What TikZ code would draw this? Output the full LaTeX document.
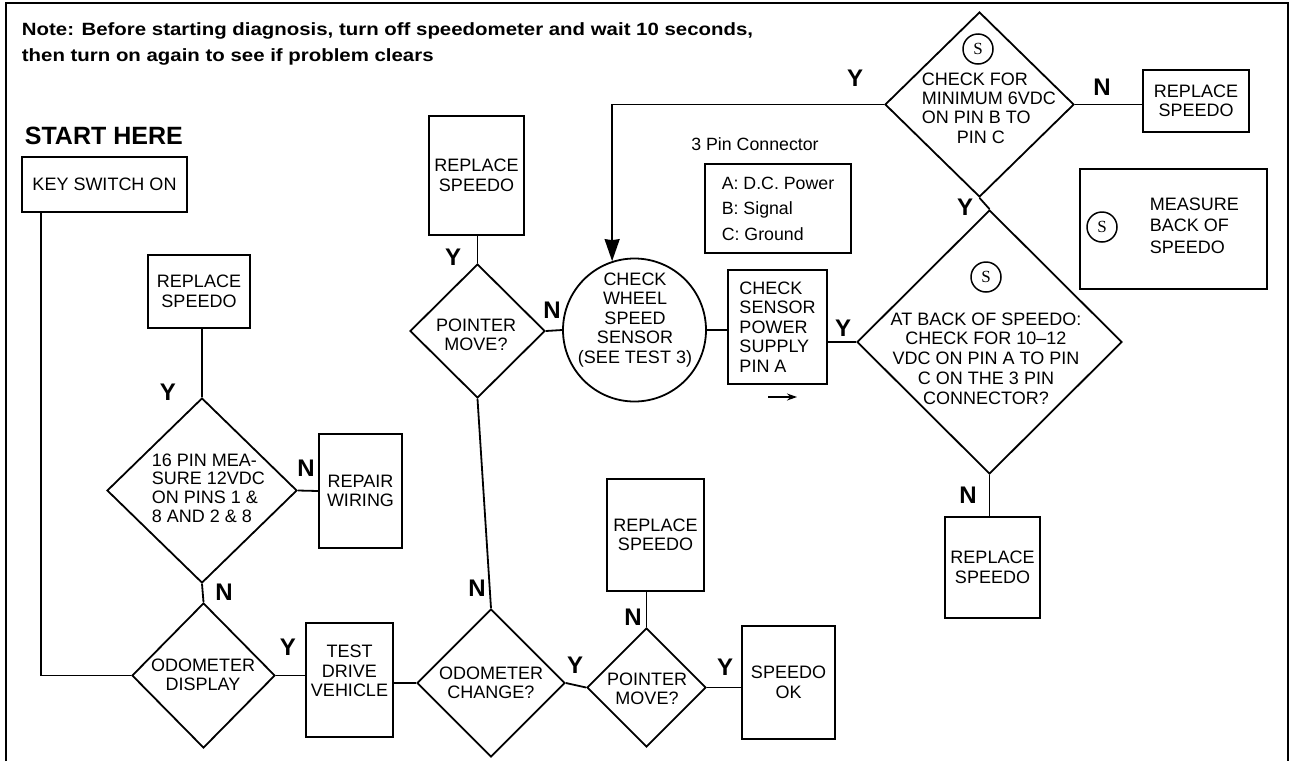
\documentclass[tikz,border=0pt]{standalone}
\usepackage{fontspec}
\setmainfont{Liberation Sans}
\newfontfamily\serifS{Liberation Serif}
\newfontfamily\notefont[FakeStretch=1.15]{Liberation Sans}
\usetikzlibrary{arrows.meta,shapes.geometric}

\begin{document}
\begin{tikzpicture}[>={Stealth[length=22pt,width=15pt,inset=1pt]}, x=1pt, y=-1pt, line width=1.8pt,
        every node/.style={inner sep=0pt},
        txt/.style={font=\fontsize{18}{19.5}\selectfont, align=center},
        yn/.style={font=\fontsize{24}{24}\selectfont\bfseries},
        blk/.style 2 args={draw, rectangle, minimum width=#1, minimum height=#2},
        dec/.style 2 args={draw, diamond, minimum width=#1, minimum height=#2},
        sym/.style={draw, circle, line width=1.5pt, minimum size=30, font=\serifS\fontsize{17}{17}\selectfont}]
        \useasboundingbox (0,0) rectangle (1291,761);
        \draw (6,761) -- (6,3) -- (1288,3) -- (1288,761);
        \node[anchor=west, align=left, font=\notefont\bfseries\fontsize{17.75}{26}\selectfont] (note) at (21,44)
            {Note: Before starting diagnosis, turn off speedometer and wait 10 seconds,\\then turn on again to see if problem clears};
        \node[anchor=west, font=\bfseries\fontsize{25}{25}\selectfont] (start) at (24,136) {START HERE};
        % boxes
        \node[blk={165}{55}, txt] (key) at (104.5,184.5) {KEY SWITCH ON};
        \node[blk={102}{73}, txt] (rep1) at (199,291.5) {REPLACE\\SPEEDO};
        \node[blk={83}{114}, txt] (wiring) at (360.5,491) {REPAIR\\WIRING};
        \node[blk={87}{114}, label={[txt,yshift=9]center:TEST\\DRIVE\\VEHICLE}] (drive) at (349.5,680) {};
        \node[blk={95}{119}, txt] (rep2) at (476.5,175.5) {REPLACE\\SPEEDO};
        \node[blk={97}{112}, txt] (rep3) at (655.5,535) {REPLACE\\SPEEDO};
        \node[blk={93}{113}, txt] (ok) at (788.5,682.5) {SPEEDO\\OK};
        \node[blk={99}{114}, txt, align=left] (sensor) at (777.5,327) {CHECK\\SENSOR\\POWER\\SUPPLY\\PIN A};
        \node[blk={146}{89}, align=left, font=\fontsize{17.75}{25.5}\selectfont] (pins) at (778,208.5) {A: D.C. Power\\B: Signal\\C: Ground};
        \node[font=\fontsize{17.75}{17.75}\selectfont] (pinslbl) at (755,144) {3 Pin Connector};
        \node[blk={106}{62}, txt] (rep4) at (1196,101) {REPLACE\\SPEEDO};
        \node[blk={187}{120}] (measure) at (1173.5,229) {};
        \node[sym] (measureS) at (1102,227) {S};
        \node[txt, align=left, anchor=west, font=\fontsize{18}{21.5}\selectfont] (measuret) at (1149,225.5) {MEASURE\\BACK OF\\SPEEDO};
        \node[blk={95}{101}, txt] (rep5) at (992.5,567.5) {REPLACE\\SPEEDO};
        \node[draw, circle, minimum size=143] (wheel) at (634.5,330) {};
        \node[txt] (wheelt) at (635,320) {CHECK\\WHEEL\\SPEED\\SENSOR\\(SEE TEST 3)};
        % decisions
        \node[dec={190}{185}] (d16) at (202,490.5) {};
        \node[txt, align=left, anchor=west, font=\fontsize{18}{18.7}\selectfont] (d16t) at (151,488) {16 PIN MEA-\\SURE 12VDC\\ON PINS 1 \&\\8 AND 2 \& 8};
        \node[dec={143}{145}] (odo) at (203.5,675.5) {};
        \node[txt] (odot) at (203,675) {ODOMETER\\DISPLAY};
        \node[dec={148}{148}] (chg) at (491,683) {};
        \node[txt] (chgt) at (491,683) {ODOMETER\\CHANGE?};
        \node[dec={119}{119}] (ptr2) at (646.5,687.5) {};
        \node[txt] (ptr2t) at (647,689) {POINTER\\MOVE?};
        \node[dec={135}{134}] (ptr1) at (477.5,331) {};
        \node[txt] (ptr1t) at (476,335) {POINTER\\MOVE?};
        \node[dec={189}{185}] (min6) at (979.5,104.5) {};
        \node[sym] (min6S) at (978,49) {S};
        \node[txt, align=left, anchor=west, font=\fontsize{18}{19.3}\selectfont] (min6t) at (921,108)
            {CHECK FOR\\MINIMUM 6VDC\\ON PIN B TO\\\hspace*{35pt}PIN C};
        \node[dec={265}{264}] (back) at (989.5,342) {};
        \node[sym] (backS) at (986,277) {S};
        \node[txt, font=\fontsize{18}{19.75}\selectfont] (backt) at (986,358.5)
            {AT BACK OF SPEEDO:\\CHECK FOR 10--12\\VDC ON PIN A TO PIN\\C ON THE 3 PIN\\CONNECTOR?};
        % connectors
        \draw ([xshift=20]key.south west) |- (odo.west);
        \draw (d16.north) -- (d16.north |- rep1.south);
        \draw (d16.east) -- (wiring.west);
        \draw (d16.south) -- (odo.north);
        \draw (odo.east) -- (odo.east -| drive.west);
        \draw (drive.east |- chg.west) -- (chg.west);
        \draw (chg.east) -- (ptr2.west);
        \draw (ptr2.north) -- (ptr2.north |- rep3.south);
        \draw (ptr2.east) -- (ptr2.east -| ok.west);
        \draw (chg.north) -- (ptr1.south);
        \draw (ptr1.north) -- (ptr1.north |- rep2.south);
        \draw (ptr1.east) -- (wheel.west);
        \draw (wheel.east) -- (wheel.east -| sensor.west);
        \draw (sensor.east |- back.west) -- (back.west);
        \draw (back.south) -- (back.south |- rep5.north);
        \draw (back.north) -- (min6.south);
        \draw (min6.east) -- (min6.east -| rep4.west);
        \draw[->] (min6.west) -- (min6.west -| wheel.108) -- (wheel.108);
        \coordinate (hint) at (768,397);
        \draw[-{Stealth[length=10pt,width=7pt]}, line width=1.5pt] (hint) -- ++(29,0);
        % answers
        \node[yn] (y1) at (168,392) {Y};
        \node[yn] (n1) at (306,468) {N};
        \node[yn] (n2) at (224,592) {N};
        \node[yn] (y2) at (288,647) {Y};
        \node[yn] (n3) at (477,588) {N};
        \node[yn] (y3) at (575,665) {Y};
        \node[yn] (n4) at (633,617) {N};
        \node[yn] (y4) at (725,667) {Y};
        \node[yn] (y5) at (453,257) {Y};
        \node[yn] (n5) at (552,310) {N};
        \node[yn] (y6) at (843,328) {Y};
        \node[yn] (y7) at (855,78) {Y};
        \node[yn] (n6) at (1102,87) {N};
        \node[yn] (y8) at (965,207) {Y};
        \node[yn] (n7) at (968,495) {N};
\end{tikzpicture}
\end{document}
